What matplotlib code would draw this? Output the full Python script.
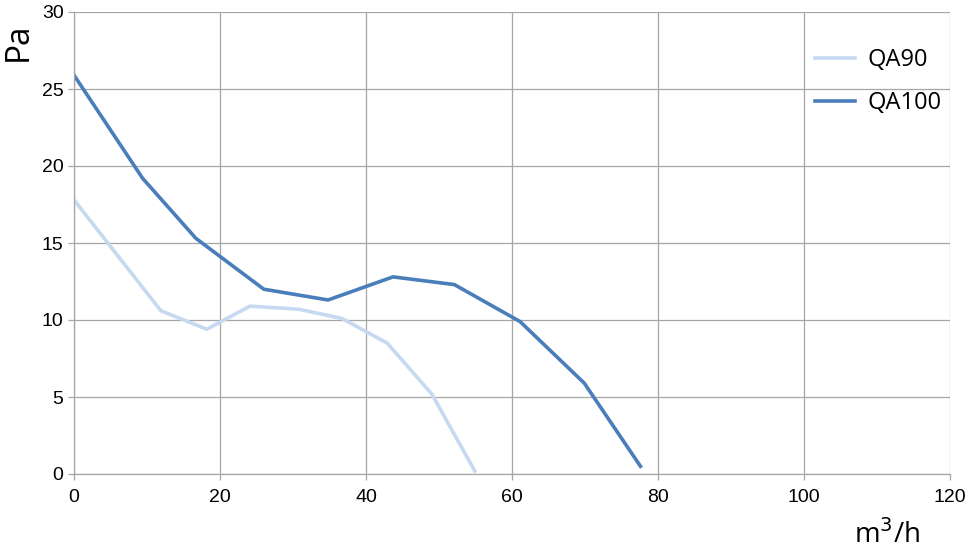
import matplotlib.pyplot as plt
from matplotlib import font_manager

# Data
qa90_x = [0, 11.9, 18.2, 24.1, 30.8, 36.7, 42.9, 49.0, 54.9]
qa90_y = [17.8, 10.6, 9.4, 10.9, 10.7, 10.1, 8.5, 5.2, 0.2]
qa100_x = [0, 9.4, 16.7, 26.0, 34.8, 43.7, 52.1, 61.1, 69.9, 77.6]
qa100_y = [25.9, 19.2, 15.3, 12.0, 11.3, 12.8, 12.3, 9.9, 5.9, 0.5]
x_ticks = [0, 20, 40, 60, 80, 100, 120]
y_ticks = [0, 5, 10, 15, 20, 25, 30]

names = {f.name for f in font_manager.fontManager.ttflist}
tick_font = 'Liberation Sans Narrow' if 'Liberation Sans Narrow' in names else 'Liberation Sans'
label_font = 'Open Sans' if 'Open Sans' in names else ('Noto Sans' if 'Noto Sans' in names else 'DejaVu Sans')
plt.rcParams['font.family'] = [tick_font, 'DejaVu Sans']

fig = plt.figure(figsize=(9.69, 5.55), dpi=100)
ax = fig.add_axes([74 / 969, 1 - 474 / 555, 876 / 969, 462 / 555])

ax.plot(qa90_x, qa90_y, color='#c6d9f1', lw=2.6, label='QA90')
ax.plot(qa100_x, qa100_y, color='#4a7ebb', lw=2.6, label='QA100')

ax.set_xlim(0, 120)
ax.set_ylim(0, 30)
ax.set_xticks(x_ticks)
ax.set_yticks(y_ticks)
ax.grid(True, color='#a6a6a6', lw=0.9)
ax.set_axisbelow(True)
for side, s in ax.spines.items():
    if side in ('left', 'bottom'):
        s.set_color('#a6a6a6')
        s.set_linewidth(0.9)
    else:
        s.set_visible(False)
ax.tick_params(colors='#a6a6a6', labelcolor='black', labelsize=14, length=4, width=0.9)
ax.tick_params(axis='x', pad=7)

ax.text(-0.064, 0.935, 'Pa', transform=ax.transAxes, rotation=90, fontsize=24,
        family=label_font, ha='center', va='center')
fig.text(887 / 969, 1 - 535 / 555, 'm$^3$/h', fontsize=20, family=label_font,
         ha='center', va='center')

leg = ax.legend(loc='upper left', bbox_to_anchor=(0.822, 0.968), frameon=False,
                prop={'family': label_font, 'size': 17}, handlelength=1.7,
                handletextpad=0.5, labelspacing=0.8)

fig.savefig('out.png', dpi=100)
